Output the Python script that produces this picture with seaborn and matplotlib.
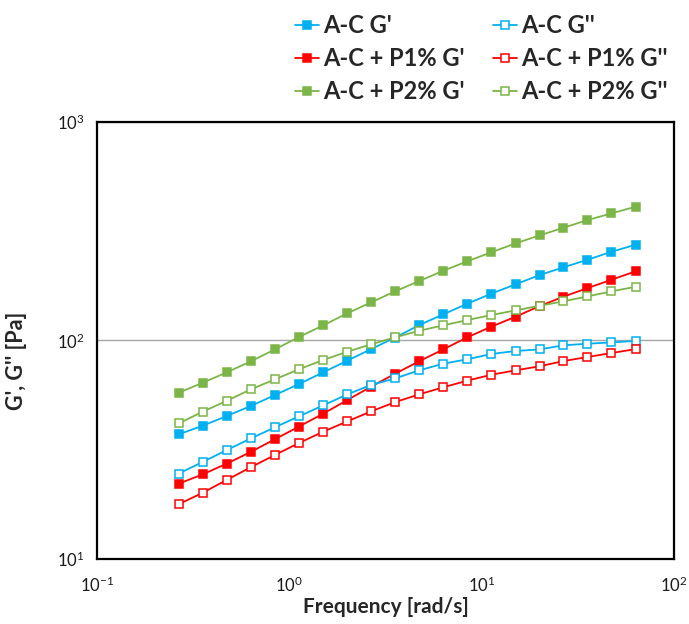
import numpy as np
import pandas as pd
import matplotlib
matplotlib.use("Agg")
import matplotlib.pyplot as plt
import seaborn as sns

# Angular frequency sweep [rad/s]
freq = [0.266, 0.355, 0.473, 0.631, 0.841, 1.12, 1.50, 2.00, 2.66, 3.55,
        4.73, 6.31, 8.41, 11.2, 15.0, 20.0, 26.6, 35.5, 47.3, 63.1]

# Storage (G') and loss (G'') moduli [Pa]
ac_g1 = [37.2, 40.7, 45.1, 50.1, 56.2, 63.1, 71.4, 80.7, 91.2, 103.0,
         117.4, 131.5, 147.0, 163.4, 180.3, 198.9, 215.7, 233.7, 254.2, 273.6]
ac_g2 = [24.6, 27.8, 31.5, 35.6, 40.0, 44.9, 50.4, 56.6, 62.5, 67.0,
         72.9, 78.2, 81.9, 86.6, 89.4, 90.9, 94.9, 96.5, 97.9, 99.3]
p1_g1 = [22.1, 24.4, 27.3, 30.9, 35.3, 40.3, 46.2, 53.3, 61.4, 70.4,
         80.2, 90.9, 103.2, 115.4, 128.2, 143.5, 158.3, 173.4, 189.3, 206.8]
p1_g2 = [17.8, 20.1, 23.0, 26.3, 29.9, 33.9, 38.2, 42.6, 47.3, 52.2,
         56.6, 61.0, 65.4, 69.6, 72.9, 76.1, 80.4, 83.9, 87.5, 91.2]
p2_g1 = [57.6, 64.0, 71.4, 80.2, 90.9, 103.5, 117.1, 132.9, 149.2, 167.5,
         186.7, 208.1, 229.8, 252.6, 277.6, 302.0, 327.3, 354.9, 380.8, 408.3]
p2_g2 = [41.7, 47.2, 52.9, 59.7, 66.3, 73.7, 81.3, 88.7, 95.9, 103.2,
         110.6, 117.1, 123.8, 130.5, 137.1, 143.9, 150.8, 158.9, 167.5, 175.8]

series_labels = ["A-C G'", "A-C + P1% G'", "A-C + P2% G'",
                 "A-C G''", "A-C + P1% G''", "A-C + P2% G''"]

blue, red, green = "#00B0F0", "#FF0000", "#7CB547"
specs = [
    (series_labels[0], ac_g1, blue, True),
    (series_labels[1], p1_g1, red, True),
    (series_labels[2], p2_g1, green, True),
    (series_labels[3], ac_g2, blue, False),
    (series_labels[4], p1_g2, red, False),
    (series_labels[5], p2_g2, green, False),
]

sns.set_theme(style="white")
plt.rcParams["font.family"] = ["Lato", "DejaVu Sans"]
plt.rcParams["mathtext.fontset"] = "custom"
plt.rcParams["mathtext.rm"] = "Lato"
plt.rcParams["mathtext.it"] = "Lato:italic"
plt.rcParams["mathtext.bf"] = "Lato:bold"

fig = plt.figure(figsize=(6.89, 6.24), dpi=100)
ax = fig.add_axes([97 / 689, 1 - 559 / 624, 577 / 689, 437.3 / 624])

handles = []
for label, vals, color, filled in specs:
    df = pd.DataFrame({"freq": freq, "mod": vals})
    sns.lineplot(data=df, x="freq", y="mod", ax=ax, color=color,
                 marker="s", markersize=5.2, linewidth=1.3,
                 markerfacecolor=color if filled else "white",
                 markeredgecolor=color, markeredgewidth=1.1,
                 estimator=None, sort=False, label=label, legend=False)
    handles.append(ax.get_lines()[-1])

ax.set_xscale("log")
ax.set_yscale("log")
ax.set_xlim(0.1, 100)
ax.set_ylim(10, 1000)
ax.set_xticks([0.1, 1, 10, 100])
ax.set_yticks([10, 100, 1000])
ax.minorticks_off()
ax.yaxis.grid(True, which="major", color="#A6A6A6", linewidth=1.0)
ax.xaxis.grid(False)
ax.set_axisbelow(True)

for s in ax.spines.values():
    s.set_color("black")
    s.set_linewidth(1.6)

ax.tick_params(axis="both", length=0, labelsize=12, colors="#1a1a1a")
ax.tick_params(axis="x", pad=12)
ax.tick_params(axis="y", pad=9)

ax.set_xlabel("Frequency [rad/s]", fontsize=15, fontweight="bold")
ax.set_ylabel("G', G'' [Pa]", fontsize=15.5, fontweight="bold")
ax.xaxis.set_label_coords(0.5, -0.086)
ax.yaxis.set_label_coords(-0.122, 0.453)

leg_kw = dict(loc="upper left", frameon=False, ncol=1,
              prop={"weight": "bold", "size": 17},
              handlelength=1.0, handletextpad=0.18, labelspacing=0.42,
              borderpad=0, borderaxespad=0)
leg1 = fig.legend(handles[:3], series_labels[:3],
                  bbox_to_anchor=(295 / 689, 1 - 14 / 624), **leg_kw)
fig.legend(handles[3:], series_labels[3:],
           bbox_to_anchor=(493 / 689, 1 - 14 / 624), **leg_kw)

fig.savefig("out.png", dpi=100)
